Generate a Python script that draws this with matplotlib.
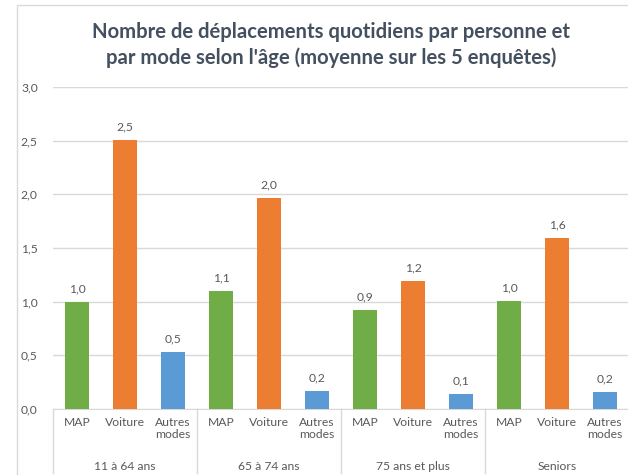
import matplotlib
matplotlib.use("Agg")
import matplotlib.pyplot as plt
from matplotlib.patches import Rectangle
import matplotlib.transforms as mtransforms

plt.rcParams['font.family'] = ['Lato', 'DejaVu Sans']

groups = ["11 à 64 ans", "65 à 74 ans", "75 ans et plus", "Seniors"]
modes = ["MAP", "Voiture", "Autres\nmodes"]
values = {
    "MAP":     [1.00, 1.10, 0.92, 1.01],
    "Voiture": [2.51, 1.97, 1.19, 1.59],
    "Autres":  [0.53, 0.17, 0.14, 0.16],
}
colors = ["#70AD47", "#ED7D31", "#5B9BD5"]
title = "Nombre de déplacements quotidiens par personne et\npar mode selon l'âge (moyenne sur les 5 enquêtes)"

W, H = 628, 475
fig = plt.figure(figsize=(W/100, H/100), dpi=100)
fig.patches.append(Rectangle((17/W, -0.1), 1.2, 1 - 5/H + 0.1, transform=fig.transFigure,
                             fill=False, edgecolor="#D9D9D9", linewidth=1))

left, right, y0, y3 = 53, 629, 409, 87
ax = fig.add_axes([left/W, (H-y0)/H, (right-left)/W, (y0-y3)/H])

fs = 8.7
series = list(values.values())
nm = len(modes)
for gi, g in enumerate(groups):
    for mi in range(nm):
        x = gi*nm + mi
        v = series[mi][gi]
        ax.bar(x, v, width=0.52, color=colors[mi], zorder=3)
        ax.text(x, v + 0.07, f"{v:.1f}".replace(".", ","), ha="center", va="bottom",
                fontsize=fs, color="#595959")

ax.set_xlim(-0.5, len(groups)*nm - 0.5)
ax.set_ylim(0, 3.0)
ax.set_yticks([0, 0.5, 1.0, 1.5, 2.0, 2.5, 3.0])
ax.set_yticklabels([f"{t:.1f}".replace(".", ",") for t in ax.get_yticks()],
                   fontsize=fs, color="#595959")
ax.tick_params(axis="y", length=0, pad=11)
ax.set_xticks([])
ax.grid(axis="y", color="#D9D9D9", linewidth=1, zorder=0)
for s in ["top", "right", "left"]:
    ax.spines[s].set_visible(False)
ax.spines["bottom"].set_color("#D9D9D9")

trans = mtransforms.blended_transform_factory(ax.transData, ax.transAxes)
ah = y0 - y3
for gi, g in enumerate(groups):
    for mi, m in enumerate(modes):
        x = gi*nm + mi
        ax.text(x, -(417-y0)/ah, m, transform=trans, ha="center", va="top",
                fontsize=fs, color="#595959", linespacing=1.15)
    ax.text(gi*nm + (nm-1)/2, -(466-y0)/ah, g, transform=trans, ha="center", va="center",
            fontsize=fs, color="#595959")
for gi in range(len(groups)+1):
    xd = gi*nm - 0.5
    ax.plot([xd, xd], [0, -(473-y0)/ah], transform=trans, color="#D9D9D9",
            linewidth=1, clip_on=False)

fig.text(0.5 + 17/W, 1 - 45/H, title, ha="center", va="center", fontsize=14.6,
         fontweight="bold", color="#44505F", linespacing=1.38)

fig.savefig("out.png", dpi=100)
